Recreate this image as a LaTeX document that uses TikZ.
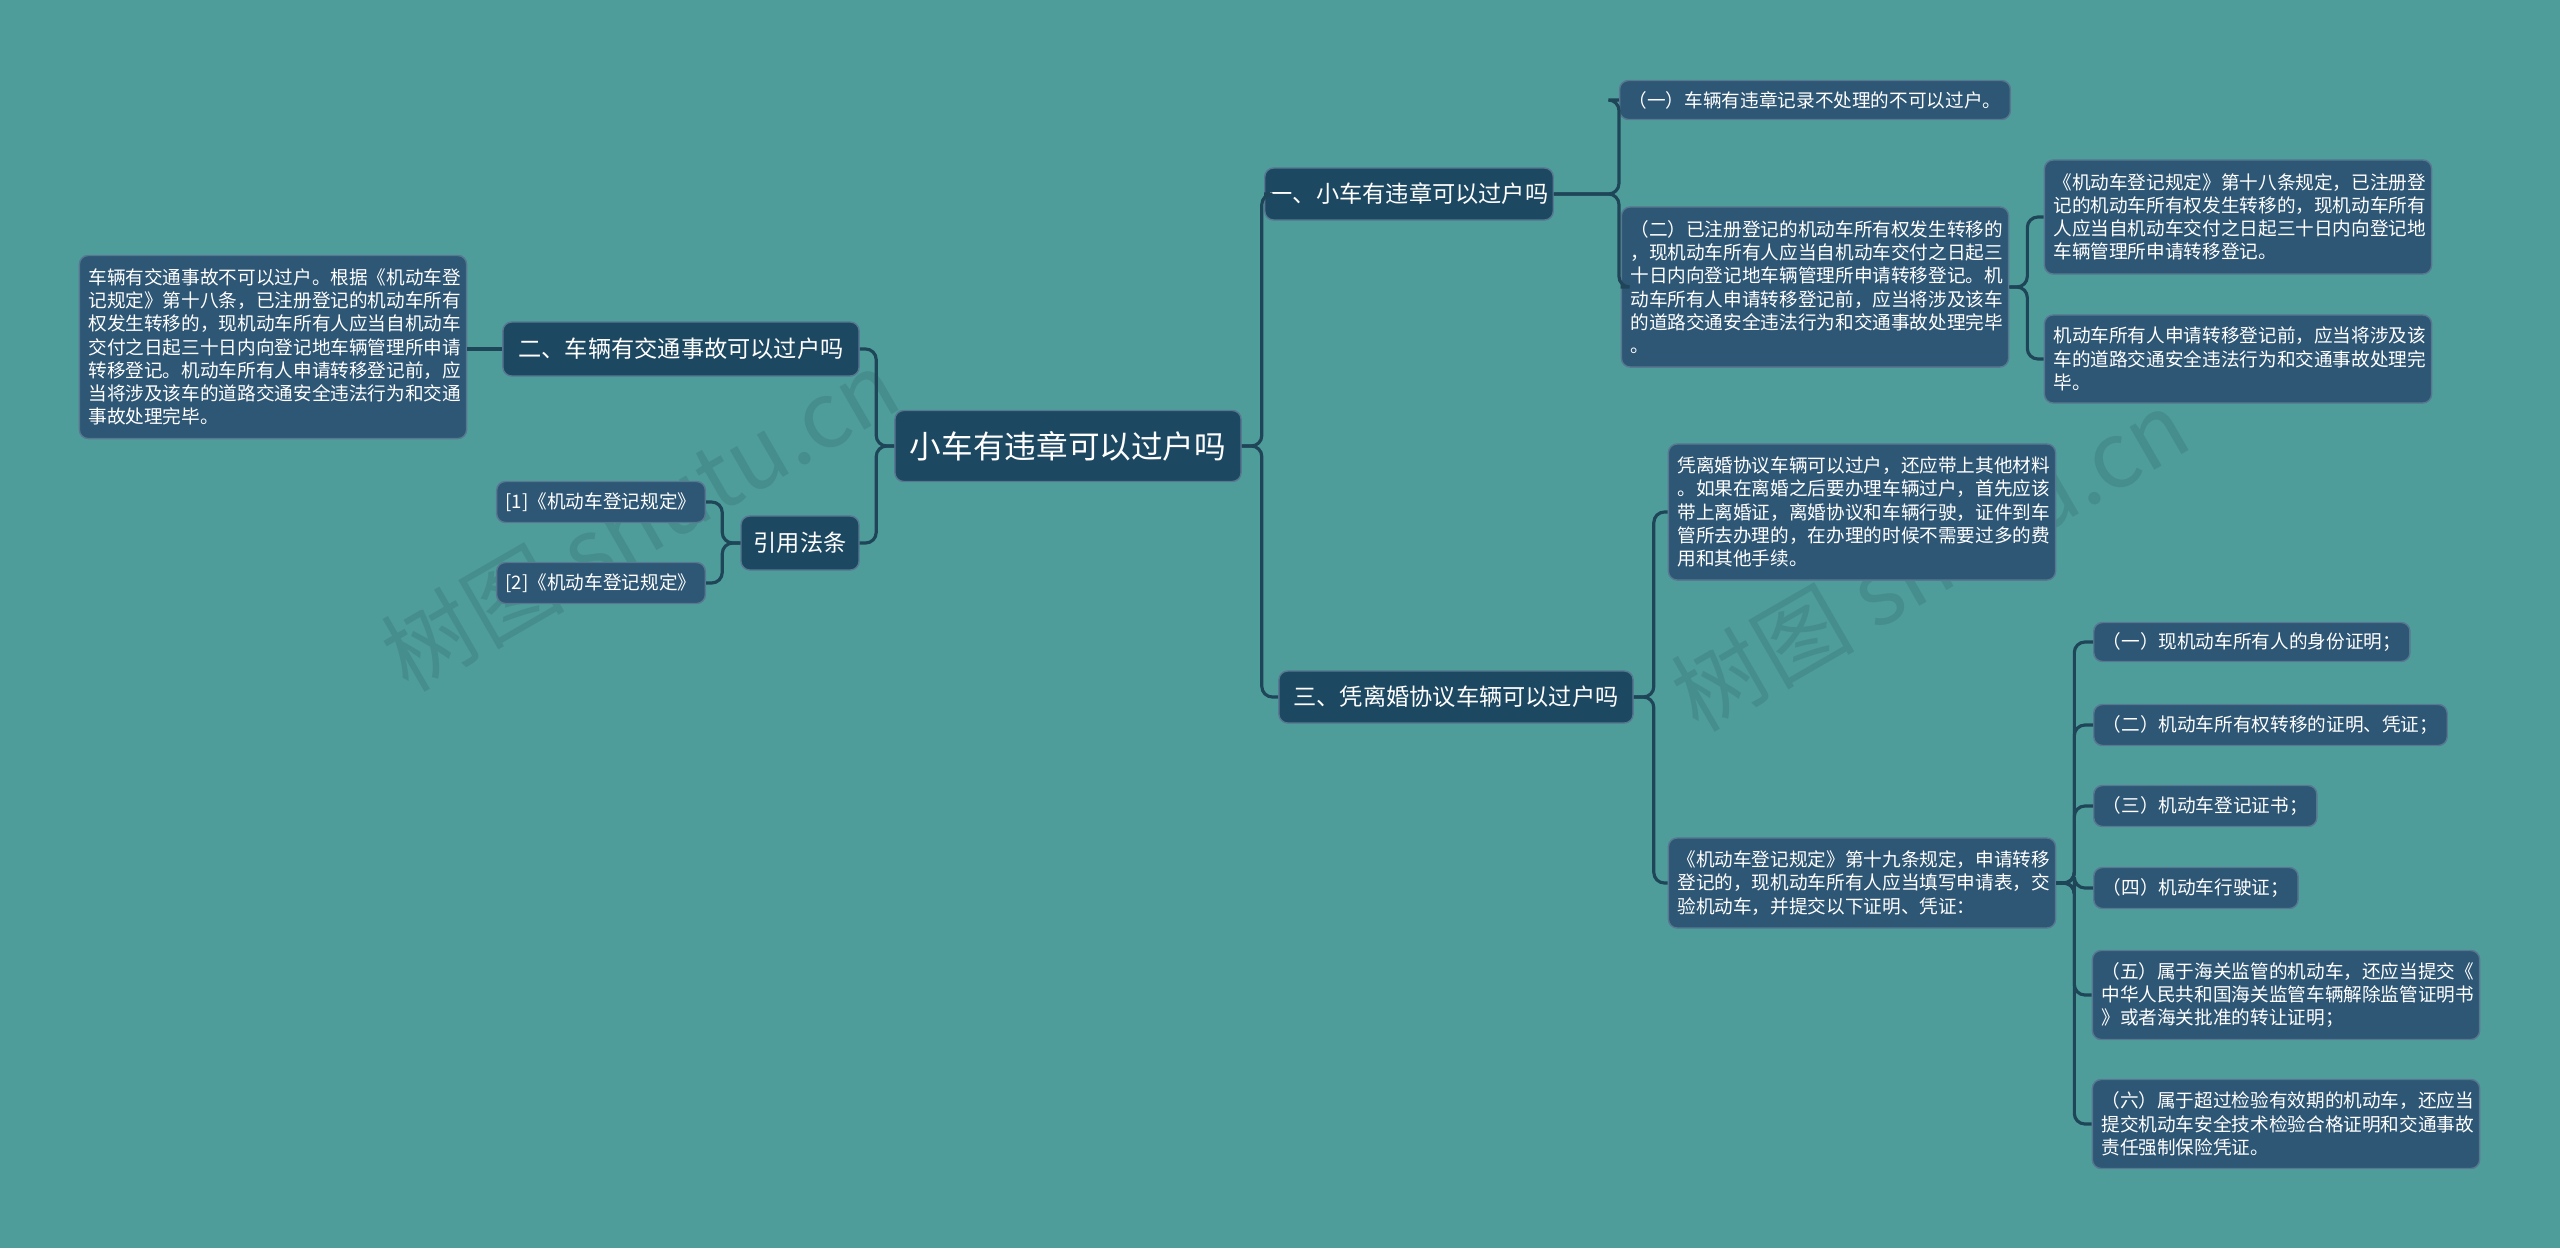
\documentclass[tikz,border=0pt]{standalone}
\usepackage{fontspec}
\setmainfont{Noto Sans CJK SC}
\definecolor{bgc}{HTML}{4F9D9B}
\definecolor{boxc}{HTML}{2E5675}
\definecolor{mainc}{HTML}{1D4862}
\definecolor{linec}{HTML}{1F4658}
\definecolor{wmc}{HTML}{3F8584}
\tikzset{
 base/.style={fill=boxc,draw=boxc!80!white,line width=0.4pt,rounded corners=2.5pt,text=white,inner xsep=0.09cm,inner ysep=0.05cm},
 leaf/.style={base,font=\fontsize{5.3pt}{6.6pt}\selectfont,align=left},
 branch/.style={base,fill=mainc,font=\fontsize{6.6pt}{8pt}\selectfont,align=center,inner xsep=0.05cm},
 conn/.style={draw=linec,line width=0.9pt,rounded corners=3pt},
 wm/.style={text=wmc,font=\fontsize{26pt}{28pt}\selectfont,rotate=30,opacity=0.6}
}
\begin{document}
\begin{tikzpicture}[x=0.01cm,y=-0.01cm]
\fill[bgc] (0,0) rectangle (2560,1248);
\useasboundingbox (0,0) rectangle (2560,1248);
\node[wm] (wm1) at (640,520) {树图 shutu.cn};
\node[wm] (wm2) at (1930,560) {树图 shutu.cn};

\node[branch,font=\fontsize{9pt}{11pt}\selectfont,minimum width=3.46cm,minimum height=0.71cm] (c) at (1068,446) {小车有违章可以过户吗};
\node[branch,minimum width=2.61cm,minimum height=0.52cm] (b1) at (1409,194) {一、小车有违章可以过户吗};
\node[branch,minimum width=3.54cm,minimum height=0.52cm] (b3) at (1456,697) {三、凭离婚协议车辆可以过户吗};
\node[branch,minimum width=3.56cm,minimum height=0.54cm] (b2) at (681,349) {二、车辆有交通事故可以过户吗};
\node[branch,minimum width=1.18cm,minimum height=0.54cm] (b4) at (800,543) {引用法条};

\node[leaf,text width=3.69cm,minimum height=1.83cm] (t2) at (273,347) {车辆有交通事故不可以过户。根据《机动车登\\记规定》第十八条，已注册登记的机动车所有\\权发生转移的，现机动车所有人应当自机动车\\交付之日起三十日内向登记地车辆管理所申请\\转移登记。机动车所有人申请转移登记前，应\\当将涉及该车的道路交通安全违法行为和交通\\事故处理完毕。};
\node[leaf,minimum width=2.07cm,minimum height=0.41cm] (r1) at (601,502) {[1]《机动车登记规定》};
\node[leaf,minimum width=2.07cm,minimum height=0.41cm] (r2) at (601,583) {[2]《机动车登记规定》};

\node[leaf,minimum width=3.87cm,minimum height=0.39cm] (l1) at (1815,100) {（一）车辆有违章记录不处理的不可以过户。};
\node[leaf,text width=3.69cm,minimum height=1.60cm] (l2) at (1815,287) {（二）已注册登记的机动车所有权发生转移的\\，现机动车所有人应当自机动车交付之日起三\\十日内向登记地车辆管理所申请转移登记。机\\动车所有人申请转移登记前，应当将涉及该车\\的道路交通安全违法行为和交通事故处理完毕\\。};
\node[leaf,text width=3.69cm,minimum height=1.14cm] (l21) at (2238,217) {《机动车登记规定》第十八条规定，已注册登\\记的机动车所有权发生转移的，现机动车所有\\人应当自机动车交付之日起三十日内向登记地\\车辆管理所申请转移登记。};
\node[leaf,text width=3.69cm,minimum height=0.88cm] (l22) at (2238,359) {机动车所有人申请转移登记前，应当将涉及该\\车的道路交通安全违法行为和交通事故处理完\\毕。};

\node[leaf,text width=3.69cm,minimum height=1.36cm] (l3) at (1862,512) {凭离婚协议车辆可以过户，还应带上其他材料\\。如果在离婚之后要办理车辆过户，首先应该\\带上离婚证，离婚协议和车辆行驶，证件到车\\管所去办理的，在办理的时候不需要过多的费\\用和其他手续。};
\node[leaf,text width=3.69cm,minimum height=0.90cm] (l4) at (1862,883) {《机动车登记规定》第十九条规定，申请转移\\登记的，现机动车所有人应当填写申请表，交\\验机动车，并提交以下证明、凭证：};
\node[leaf,minimum width=3.12cm,minimum height=0.39cm,anchor=west] (k1) at (2093,642) {（一）现机动车所有人的身份证明；};
\node[leaf,minimum width=3.50cm,minimum height=0.41cm,anchor=west] (k2) at (2093,725) {（二）机动车所有权转移的证明、凭证；};
\node[leaf,minimum width=2.23cm,minimum height=0.41cm,anchor=west] (k3) at (2093,806) {（三）机动车登记证书；};
\node[leaf,minimum width=2.01cm,minimum height=0.41cm,anchor=west] (k4) at (2093,888) {（四）机动车行驶证；};
\node[leaf,text width=3.69cm,minimum height=0.89cm] (k5) at (2286,995) {（五）属于海关监管的机动车，还应当提交《\\中华人民共和国海关监管车辆解除监管证明书\\》或者海关批准的转让证明；};
\node[leaf,text width=3.69cm,minimum height=0.89cm] (k6) at (2286,1124) {（六）属于超过检验有效期的机动车，还应当\\提交机动车安全技术检验合格证明和交通事故\\责任强制保险凭证。};

\draw[conn] (c.east) -- ++(20,0) |- (b1.west);
\draw[conn] (c.east) -- ++(20,0) |- (b3.west);
\draw[conn] (c.west) -- ++(-18,0) |- (b2.east);
\draw[conn] (c.west) -- ++(-18,0) |- (b4.east);
\draw[conn] (b2.west) -- (t2.east |- b2.west);
\draw[conn] (b4.west) -- ++(-18,0) |- (r1.east);
\draw[conn] (b4.west) -- ++(-18,0) |- (r2.east);
\draw[conn] (b1.east) -- ++(65,0) |- (l1.west);
\draw[conn] (b1.east) -- ++(65,0) |- (l2.west);
\draw[conn] (l2.east) -- ++(18,0) |- (l21.west);
\draw[conn] (l2.east) -- ++(18,0) |- (l22.west);
\draw[conn] (b3.east) -- ++(20,0) |- (l3.west);
\draw[conn] (b3.east) -- ++(20,0) |- (l4.west);
\foreach \k in {k1,k2,k3,k4,k5,k6} \draw[conn] (l4.east) -- ++(18,0) |- (\k.west);
\end{tikzpicture}
\end{document}
